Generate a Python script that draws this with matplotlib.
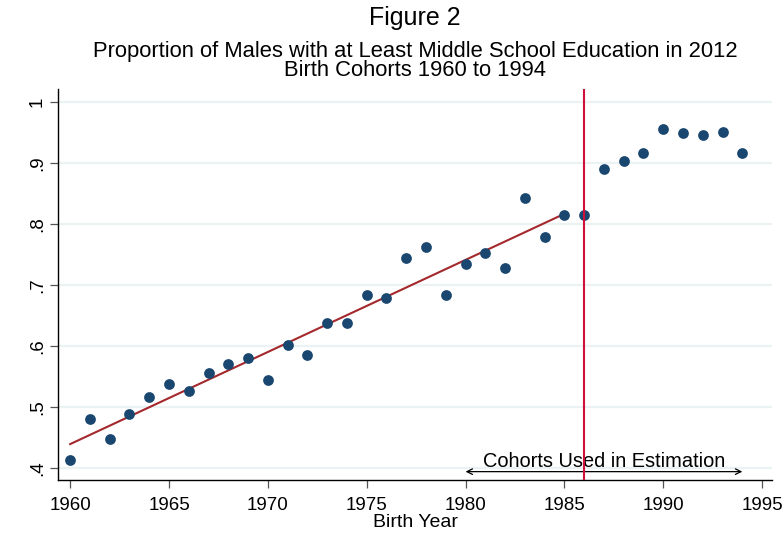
import numpy as np
import matplotlib
matplotlib.use("Agg")
import matplotlib.pyplot as plt

plt.rcParams['font.family'] = ['Liberation Sans', 'DejaVu Sans']

# proportion with at least middle school education, by birth year
years = list(range(1960, 1995))
share = [0.413, 0.480, 0.448, 0.488, 0.516, 0.537, 0.527, 0.556, 0.570, 0.580,
         0.544, 0.602, 0.585, 0.637, 0.638, 0.684, 0.679, 0.745, 0.762, 0.684,
         0.735, 0.753, 0.728, 0.842, 0.778, 0.815, 0.815, 0.890, 0.903, 0.917,
         0.956, 0.949, 0.946, 0.951, 0.917]

fit_start, fit_end = 1960, 1985
cutoff_year = 1986
est_start, est_end = 1980, 1994
y_ticks = [0.4, 0.5, 0.6, 0.7, 0.8, 0.9, 1.0]
y_ticklabels = ['.4', '.5', '.6', '.7', '.8', '.9', '1']
x_ticks = [1960, 1965, 1970, 1975, 1980, 1985, 1990, 1995]

yrs = np.array(years)
vals = np.array(share)
mask = (yrs >= fit_start) & (yrs <= fit_end)
b, a = np.polyfit(yrs[mask], vals[mask], 1)
fit_x = np.array([fit_start, fit_end])

W, H = 784, 537
fig = plt.figure(figsize=(W / 100, H / 100), dpi=100)
ax = fig.add_axes([58.3 / W, 1 - 480 / H, (772 - 58.3) / W, (480 - 89) / H])

for t in y_ticks:
    ax.axhline(t, color='#eaf2f3', lw=1.6, zorder=0)

ax.plot(fit_x, a + b * fit_x, color='#a4282c', lw=1.5, zorder=2)
ax.scatter(yrs, vals, s=60, color='#1a476f', zorder=3, linewidths=0)
ax.axvline(cutoff_year, color='#d0103a', lw=1.5, zorder=4)

ax.annotate('', xy=(est_start, 0.394), xytext=(est_end, 0.394),
            arrowprops=dict(arrowstyle='<->', color='black', lw=0.9,
                            shrinkA=0, shrinkB=0))
ax.text((est_start + est_end) / 2, 0.4016, 'Cohorts Used in Estimation',
        ha='center', va='baseline', fontsize=14.4)

ax.set_xlim(1959.4, 1995.5)
ax.set_ylim(0.3803, 1.0213)
ax.set_xticks(x_ticks)
ax.set_yticks(y_ticks)
ax.set_yticklabels(y_ticklabels, rotation=90, va='center')
ax.tick_params(axis='both', labelsize=13.5, length=5.8, width=0.9,
               color='#555555')
ax.tick_params(axis='x', pad=6.5)
ax.tick_params(axis='y', pad=3)
ax.set_xlabel('Birth Year', fontsize=14, labelpad=0)

for side in ['top', 'right']:
    ax.spines[side].set_visible(False)
for side in ['left', 'bottom']:
    ax.spines[side].set_linewidth(1.0)

title_x = 415 / W
fig.text(title_x, 1 - 18 / H, 'Figure 2', ha='center', va='center',
         fontsize=18)
fig.text(title_x, 1 - 52 / H,
         'Proportion of Males with at Least Middle School Education in 2012',
         ha='center', va='center', fontsize=15.8)
fig.text(title_x, 1 - 71 / H, 'Birth Cohorts 1960 to 1994',
         ha='center', va='center', fontsize=15.8)

fig.savefig('out.png', dpi=100)
